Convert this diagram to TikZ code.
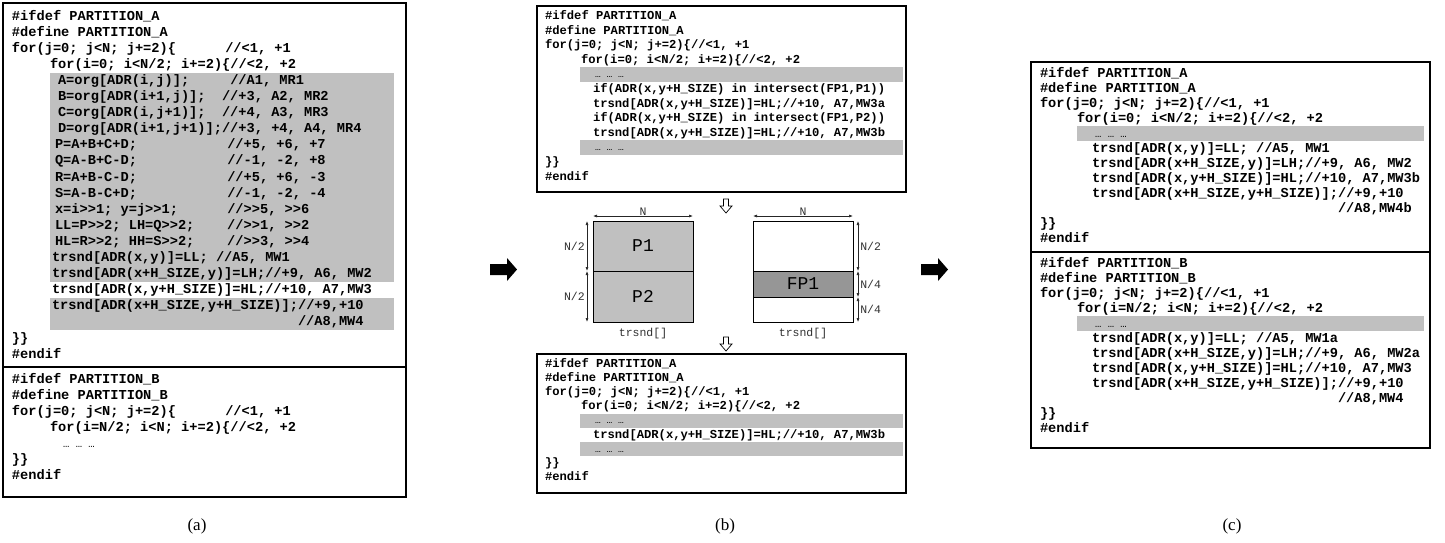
\documentclass[tikz,border=0pt]{standalone}
\usepackage{fontspec}
\setmainfont{Liberation Serif}
\setmonofont{Liberation Mono}
\usetikzlibrary{arrows.meta}
\definecolor{hl}{HTML}{C0C0C0}
\definecolor{fpgray}{HTML}{969696}
\definecolor{lab}{HTML}{303030}
\frenchspacing
\tikzset{
  ca/.style={anchor=base west, inner sep=0pt, outer sep=0pt, font=\ttfamily\bfseries\fontsize{13.67}{15}\selectfont},
  cb/.style={anchor=base west, inner sep=0pt, outer sep=0pt, font=\ttfamily\bfseries\fontsize{12.17}{14}\selectfont},
  dotsa/.style={anchor=base west, inner sep=0pt, font=\ttfamily\fontsize{10.5}{12}\selectfont},
  dotsb/.style={anchor=base west, inner sep=0pt, font=\ttfamily\fontsize{9.5}{11}\selectfont},
  panel/.style={draw=black, line width=1.1pt},
  part/.style={draw=black, line width=0.8pt, inner sep=0pt, outer sep=0pt, font=\ttfamily\fontsize{18}{18}\selectfont},
  dim/.style={{Latex[length=4pt,width=3pt]}-{Latex[length=4pt,width=3pt]}, line width=0.6pt, draw=black!85},
  lab/.style={inner sep=1pt, text=lab, font=\ttfamily\fontsize{11.5}{12}\selectfont},
  caption/.style={inner sep=0pt, font=\rmfamily\fontsize{17}{18}\selectfont},
  fat/.style={fill=black},
  hollow/.style={draw=black, line width=0.7pt, fill=white}
}
\begin{document}
\begin{tikzpicture}[x=1pt,y=-1pt]
\useasboundingbox (0,0) rectangle (1445,542);

% ================= panel (a) =================
\fill[hl] (50,72.8) rectangle (394,282.1);
\fill[hl] (50,298.2) rectangle (394,330.4);
\draw[panel] (3,3) rectangle (406,497);
\draw[panel] (3,367) -- (406,367);

\node[ca] (a1) at (12,20) {\#ifdef PARTITION\_A};
\node[ca] (a2) at (12,36.1) {\#define PARTITION\_A};
\node[ca] (a3) at (12,52.2) {for(j=0; j<N; j+=2)\{~~~~~~//<1, +1};
\node[ca] (a4) at (50,68.3) {for(i=0; i<N/2; i+=2)\{//<2, +2};
\node[ca] (a5) at (58,84.4) {A=org[ADR(i,j)];~~~~~//A1, MR1};
\node[ca] (a6) at (58,100.5) {B=org[ADR(i+1,j)];~~//+3, A2, MR2};
\node[ca] (a7) at (58,116.6) {C=org[ADR(i,j+1)];~~//+4, A3, MR3};
\node[ca] (a8) at (58,132.7) {D=org[ADR(i+1,j+1)];//+3, +4, A4, MR4};
\node[ca] (a9) at (55,148.8) {P=A+B+C+D;~~~~~~~~~~~//+5, +6, +7};
\node[ca] (a10) at (55,164.9) {Q=A-B+C-D;~~~~~~~~~~~//-1, -2, +8};
\node[ca] (a11) at (55,181) {R=A+B-C-D;~~~~~~~~~~~//+5, +6, -3};
\node[ca] (a12) at (55,197.1) {S=A-B-C+D;~~~~~~~~~~~//-1, -2, -4};
\node[ca] (a13) at (55,213.2) {x=i>>1; y=j>>1;~~~~~~//>>5, >>6};
\node[ca] (a14) at (55,229.3) {LL=P>>2; LH=Q>>2;~~~~//>>1, >>2};
\node[ca] (a15) at (55,245.4) {HL=R>>2; HH=S>>2;~~~~//>>3, >>4};
\node[ca] (a16) at (52,261.5) {trsnd[ADR(x,y)]=LL; //A5, MW1};
\node[ca] (a17) at (52,277.6) {trsnd[ADR(x+H\_SIZE,y)]=LH;//+9, A6, MW2};
\node[ca] (a18) at (52,293.7) {trsnd[ADR(x,y+H\_SIZE)]=HL;//+10, A7,MW3};
\node[ca] (a19) at (52,309.8) {trsnd[ADR(x+H\_SIZE,y+H\_SIZE)];//+9,+10};
\node[ca] (a20) at (298,325.9) {//A8,MW4};
\node[ca] (a21) at (12,342) {\}\}};
\node[ca] (a22) at (12,358.1) {\#endif};

\node[ca] (ab1) at (12,383) {\#ifdef PARTITION\_B};
\node[ca] (ab2) at (12,399.1) {\#define PARTITION\_B};
\node[ca] (ab3) at (12,415.2) {for(j=0; j<N; j+=2)\{~~~~~~//<1, +1};
\node[ca] (ab4) at (50,431.3) {for(i=N/2; i<N; i+=2)\{//<2, +2};
\node[dotsa] (ab5) at (63,447.5) {… … …};
\node[ca] (ab6) at (12,463.6) {\}\}};
\node[ca] (ab7) at (12,479.7) {\#endif};

\node[caption] (capa) at (197,526) {(a)};

% arrow a -> b
\fill[fat] (490,264) -- (507,264) -- (507,258) -- (517,269.5) -- (507,281) -- (507,275) -- (490,275) -- cycle;

% ================= panel (b) =================
\fill[hl] (580,67.3) rectangle (903,81.9);
\fill[hl] (580,140.3) rectangle (903,154.9);
\draw[panel] (537,6) rectangle (906,192);

\node[cb] (b1) at (545,19.5) {\#ifdef PARTITION\_A};
\node[cb] (b2) at (545,34.1) {\#define PARTITION\_A};
\node[cb] (b3) at (545,48.7) {for(j=0; j<N; j+=2)\{//<1, +1};
\node[cb] (b4) at (581,63.3) {for(i=0; i<N/2; i+=2)\{//<2, +2};
\node[dotsb] (b5) at (595,77.9) {… … …};
\node[cb] (b6) at (593,92.5) {if(ADR(x,y+H\_SIZE) in intersect(FP1,P1))};
\node[cb] (b7) at (593,107.1) {trsnd[ADR(x,y+H\_SIZE)]=HL;//+10, A7,MW3a};
\node[cb] (b8) at (593,121.7) {if(ADR(x,y+H\_SIZE) in intersect(FP1,P2))};
\node[cb] (b9) at (593,136.3) {trsnd[ADR(x,y+H\_SIZE)]=HL;//+10, A7,MW3b};
\node[dotsb] (b10) at (595,150.9) {… … …};
\node[cb] (b11) at (545,165.5) {\}\}};
\node[cb] (b12) at (545,180.1) {\#endif};

% hollow arrow 1
\draw[hollow] (723.5,199) -- (728.5,199) -- (728.5,206) -- (732,206) -- (726,213) -- (720,206) -- (723.5,206) -- cycle;

% partition squares
\node[part, fill=hl, minimum width=100pt, minimum height=50pt] (p1) at (643,246) {P1};
\node[part, fill=hl, minimum width=100pt, minimum height=51pt] (p2) at (643,296.5) {P2};
\node[part, fill=white, minimum width=100pt, minimum height=50pt] (fw1) at (803,246) {};
\node[part, fill=fpgray, minimum width=100pt, minimum height=26pt] (fp1) at (803,284) {FP1};
\node[part, fill=white, minimum width=100pt, minimum height=25pt] (fw2) at (803,309.5) {};

\draw[dim] ([yshift=5pt]p1.north west) -- ([yshift=5pt]p1.north east) node[midway, above=-1pt, lab] (nl) {N};
\draw[dim] ([yshift=5pt]fw1.north west) -- ([yshift=5pt]fw1.north east) node[midway, above=-1pt, lab] (nr) {N};
\draw[dim] ([xshift=-6pt]p1.north west) -- ([xshift=-6pt]p1.south west) node[midway, left=1pt, lab] (lp1) {N/2};
\draw[dim] ([xshift=-6pt]p2.north west) -- ([xshift=-6pt]p2.south west) node[midway, left=1pt, lab] (lp2) {N/2};
\draw[dim] ([xshift=5pt]fw1.north east) -- ([xshift=5pt]fw1.south east) node[midway, right=1pt, lab] (lf1) {N/2};
\draw[dim] ([xshift=5pt]fp1.north east) -- ([xshift=5pt]fp1.south east) node[midway, right=1pt, lab] (lf2) {N/4};
\draw[dim] ([xshift=5pt]fw2.north east) -- ([xshift=5pt]fw2.south east) node[midway, right=1pt, lab] (lf3) {N/4};
\node[lab] (t1) at (643,334) {trsnd[]};
\node[lab] (t2) at (803,334) {trsnd[]};

% hollow arrow 2
\draw[hollow] (723.5,337) -- (728.5,337) -- (728.5,344) -- (732,344) -- (726,351) -- (720,344) -- (723.5,344) -- cycle;

\fill[hl] (580,413.6) rectangle (903,427.8);
\fill[hl] (580,442) rectangle (903,456.2);
\draw[panel] (537,354) rectangle (906,493);

\node[cb] (bb1) at (545,367) {\#ifdef PARTITION\_A};
\node[cb] (bb2) at (545,381.2) {\#define PARTITION\_A};
\node[cb] (bb3) at (545,395.4) {for(j=0; j<N; j+=2)\{//<1, +1};
\node[cb] (bb4) at (581,409.6) {for(i=0; i<N/2; i+=2)\{//<2, +2};
\node[dotsb] (bb5) at (595,423.8) {… … …};
\node[cb] (bb6) at (593,438) {trsnd[ADR(x,y+H\_SIZE)]=HL;//+10, A7,MW3b};
\node[dotsb] (bb7) at (595,452.2) {… … …};
\node[cb] (bb8) at (545,466.4) {\}\}};
\node[cb] (bb9) at (545,480.6) {\#endif};

\node[caption] (capb) at (725,526) {(b)};

% arrow b -> c
\fill[fat] (921,264) -- (938,264) -- (938,258) -- (948,269.5) -- (938,281) -- (938,275) -- (921,275) -- cycle;

% ================= panel (c) =================
\fill[hl] (1077,126) rectangle (1424,141);
\fill[hl] (1077,316) rectangle (1424,331);
\draw[panel] (1031,62) rectangle (1430,448);
\draw[panel] (1031,252) -- (1430,252);

\node[ca] (c1) at (1040,77) {\#ifdef PARTITION\_A};
\node[ca] (c2) at (1040,92) {\#define PARTITION\_A};
\node[ca] (c3) at (1040,107) {for(j=0; j<N; j+=2)\{//<1, +1};
\node[ca] (c4) at (1077,122) {for(i=0; i<N/2; i+=2)\{//<2, +2};
\node[dotsa] (c5) at (1095,137) {… … …};
\node[ca] (c6) at (1092,152) {trsnd[ADR(x,y)]=LL; //A5, MW1};
\node[ca] (c7) at (1092,167) {trsnd[ADR(x+H\_SIZE,y)]=LH;//+9, A6, MW2};
\node[ca] (c8) at (1092,182) {trsnd[ADR(x,y+H\_SIZE)]=HL;//+10, A7,MW3b};
\node[ca] (c9) at (1092,197) {trsnd[ADR(x+H\_SIZE,y+H\_SIZE)];//+9,+10};
\node[ca] (c10) at (1338,212) {//A8,MW4b};
\node[ca] (c11) at (1040,227) {\}\}};
\node[ca] (c12) at (1040,242) {\#endif};

\node[ca] (cb1) at (1040,267) {\#ifdef PARTITION\_B};
\node[ca] (cb2) at (1040,282) {\#define PARTITION\_B};
\node[ca] (cb3) at (1040,297) {for(j=0; j<N; j+=2)\{//<1, +1};
\node[ca] (cb4) at (1077,312) {for(i=N/2; i<N; i+=2)\{//<2, +2};
\node[dotsa] (cb5) at (1095,327) {… … …};
\node[ca] (cb6) at (1092,342) {trsnd[ADR(x,y)]=LL; //A5, MW1a};
\node[ca] (cb7) at (1092,357) {trsnd[ADR(x+H\_SIZE,y)]=LH;//+9, A6, MW2a};
\node[ca] (cb8) at (1092,372) {trsnd[ADR(x,y+H\_SIZE)]=HL;//+10, A7,MW3};
\node[ca] (cb9) at (1092,387) {trsnd[ADR(x+H\_SIZE,y+H\_SIZE)];//+9,+10};
\node[ca] (cb10) at (1338,402) {//A8,MW4};
\node[ca] (cb11) at (1040,417) {\}\}};
\node[ca] (cb12) at (1040,432) {\#endif};

\node[caption] (capc) at (1232,526) {(c)};
\end{tikzpicture}
\end{document}
